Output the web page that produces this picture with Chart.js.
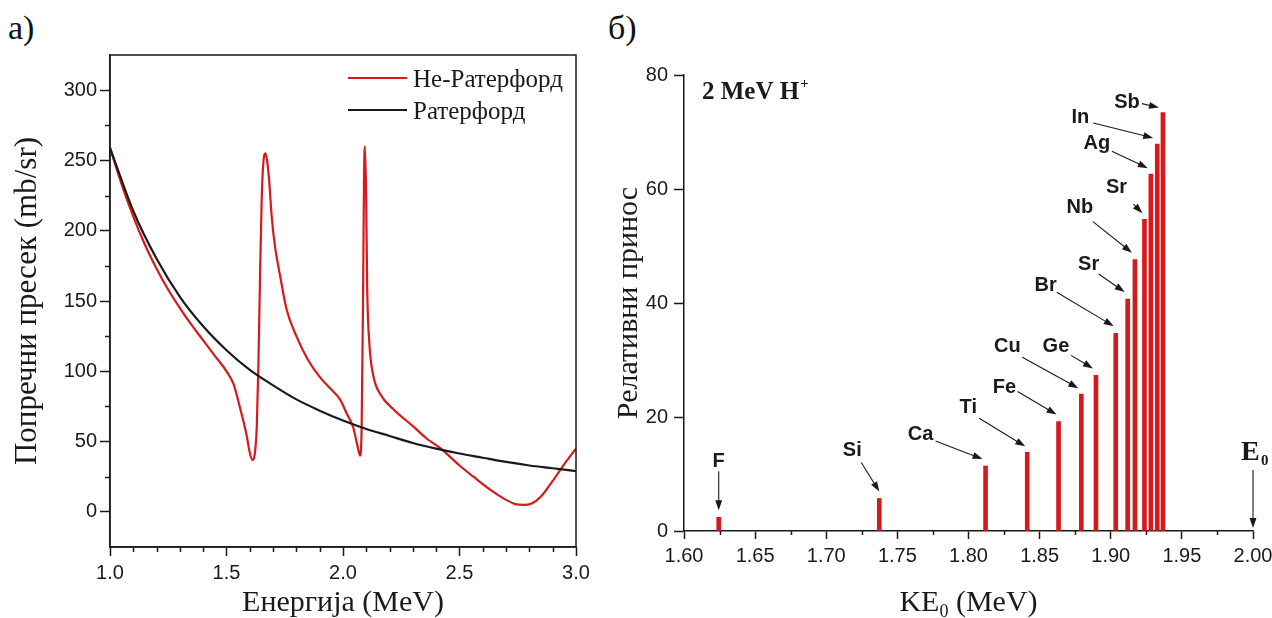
<!DOCTYPE html>
<html lang="sr">
<head>
<meta charset="UTF-8" />
<title>Ратерфорд и релативни принос</title>
<script src="https://cdn.jsdelivr.net/npm/chart.js"></script>
<style>
  body {
    margin: 0;
    background: #fff;
    width: 1272px;
    height: 618px;
    overflow: hidden;
    position: relative;
    font-family: "Liberation Serif", serif;
    color: #111;
  }
  .tag {
    position: absolute;
    top: 11px;
    font-size: 34px;
    line-height: 1;
  }
  #leftChart { position: absolute; left: 0; top: 0; }
  #rightChart { position: absolute; left: 590px; top: 0; }
</style>
</head>
<body>
<div class="tag" style="left: 8px">a)</div>
<div class="tag" style="left: 608px">б)</div>
<canvas id="leftChart" width="600" height="618"></canvas>
<canvas id="rightChart" width="682" height="618"></canvas>

<script>
// --- panel a: cross sections ---
const ruthEnergy = [1.0, 1.1, 1.2, 1.3, 1.4, 1.5, 1.6, 1.7, 1.8, 1.9, 2.0,
                    2.1, 2.2, 2.3, 2.4, 2.5, 2.6, 2.7, 2.8, 2.9, 3.0];
const ruthSigma = [259, 214, 180, 153, 132, 115, 101, 90, 80, 72, 65,
                   59, 54, 49, 45, 41.5, 38.5, 35.5, 33, 31, 29];

const nonRuthEnergy = [1.00, 1.05, 1.10, 1.15, 1.20, 1.25, 1.30, 1.35, 1.40, 1.45,
  1.50, 1.53, 1.558, 1.587, 1.60, 1.611, 1.622, 1.63, 1.637, 1.644,
  1.651, 1.658, 1.667, 1.675, 1.683, 1.694, 1.708, 1.73, 1.758, 1.80,
  1.85, 1.90, 1.95, 1.987, 2.016, 2.044, 2.062, 2.073, 2.08, 2.086,
  2.09, 2.094, 2.099, 2.104, 2.113, 2.13, 2.159, 2.216, 2.30, 2.36,
  2.42, 2.50, 2.56, 2.63, 2.70, 2.74, 2.775, 2.81, 2.85, 2.90, 2.95, 3.00];
const nonRuthSigma = [259, 233, 210, 190, 173, 158, 145, 133, 122, 111,
  100, 91, 74, 54, 42, 37, 42, 61, 105, 168,
  222, 248, 255, 249, 236, 210, 189, 168, 144, 125,
  108, 96, 87, 80, 70, 60, 47, 40, 60, 150,
  235, 260, 228, 158, 120, 97, 84, 73, 61, 52,
  45, 33, 25, 16, 8.5, 5.5, 5, 6, 11, 22, 34, 45];

const sigmaTicks = [0, 50, 100, 150, 200, 250, 300];
const energyTicks = [1.0, 1.5, 2.0, 2.5, 3.0];

// --- panel b: relative yields ---
const elements = ["F", "Si", "Ca", "Ti", "Fe", "Cu", "Ge", "Br", "Sr", "Nb", "Sr", "Ag", "In", "Sb"];
const peakEnergy = [1.6244, 1.7373, 1.812, 1.8413, 1.8633, 1.8793, 1.8896,
                    1.9035, 1.9119, 1.917, 1.9237, 1.9282, 1.9327, 1.9367];
const peakYield = [2.4, 5.7, 11.4, 13.8, 19.2, 24.0, 27.3,
                   34.7, 40.7, 47.6, 54.7, 62.6, 67.9, 73.4];
const keTicks = [1.60, 1.65, 1.70, 1.75, 1.80, 1.85, 1.90, 1.95, 2.00];
const yieldTicks = [0, 20, 40, 60, 80];
const beamEnergy = 2.0;

// label placement relative to the top of each bar:
// [textDx, textDy, tailDx, tailDy, headDx, headDy]
const labelLayout = [
  [0, -56, 0, -46, 0, -7],
  [-27, -48, -18, -36, 0, -7],
  [-65, -32, -50, -25, -3, -7],
  [-59, -45, -48, -34, -2, -6],
  [-54, -34, -41, -30, -2, -7],
  [-74, -48, -59, -37, -3, -6],
  [-40, -29, -25, -20, -3, -7],
  [-70, -48, -59, -41, -2, -7],
  [-39, -35, -29, -25, -3, -7],
  [-55, -52, -42, -38, -3, -7],
  [-28, -32, -11, -15, -2, -6],
  [-54, -31, -39, -23, -3, -6],
  [-77, -26, -64, -21, -4, -6],
  [-36, -10, -21, -9, -4, -5],
];

const RED = "#d7191c";
const INK = "#1a1a1a";
const SANS = "'Liberation Sans', Arial, sans-serif";
const SERIF = "'Liberation Serif', 'Times New Roman', serif";

Chart.defaults.font.family = SANS;
Chart.defaults.color = INK;

function between(a, b, step, skip) {
  const out = [];
  for (let v = a + step; v < b - step / 2; v += step) {
    const r = Math.round(v * 1000) / 1000;
    if (!skip.some((s) => Math.abs(s - r) < 1e-6)) out.push(r);
  }
  return out;
}

function minorTicks(ctx, scale, values, len) {
  ctx.beginPath();
  values.forEach((v) => {
    const p = Math.round(scale.getPixelForValue(v)) + 0.5;
    if (scale.isHorizontal()) {
      ctx.moveTo(p, scale.top);
      ctx.lineTo(p, scale.top + len);
    } else {
      ctx.moveTo(scale.right, p);
      ctx.lineTo(scale.right - len, p);
    }
  });
  ctx.stroke();
}

function arrow(ctx, x1, y1, x2, y2) {
  const a = Math.atan2(y2 - y1, x2 - x1);
  const L = 10, W = 3.5;
  const c = Math.cos(a), s = Math.sin(a);
  ctx.beginPath();
  ctx.moveTo(x1, y1);
  ctx.lineTo(x2 - L * 0.8 * c, y2 - L * 0.8 * s);
  ctx.stroke();
  ctx.beginPath();
  ctx.moveTo(x2, y2);
  ctx.lineTo(x2 - L * c + W * s, y2 - L * s - W * c);
  ctx.lineTo(x2 - L * c - W * s, y2 - L * s + W * c);
  ctx.closePath();
  ctx.fill();
}

function fixedBox(size) {
  return (scale) => {
    if (scale.isHorizontal()) scale.height = size;
    else scale.width = size;
    scale.paddingLeft = scale.paddingRight = 0;
    scale.paddingTop = scale.paddingBottom = 0;
  };
}

function axis(min, max, tickList, fmt, box, tickLen, pad, title) {
  return {
    type: "linear",
    min: min,
    max: max,
    offset: false,
    afterBuildTicks: (s) => { s.ticks = tickList.map((v) => ({ value: v })); },
    afterFit: fixedBox(box),
    ticks: {
      callback: fmt,
      font: { size: 20 },
      color: INK,
      padding: pad,
      maxRotation: 0,
      autoSkip: false,
    },
    grid: {
      offset: false,
      drawOnChartArea: false,
      tickLength: tickLen,
      tickWidth: 1.5,
      tickColor: INK,
    },
    border: { color: INK, width: 1.5 },
    title: title,
  };
}

// frame, minor ticks and legend for panel a
const crossSectionExtras = {
  id: "crossSectionExtras",
  afterDraw(chart) {
    const { ctx, chartArea: ca, scales } = chart;
    ctx.save();
    ctx.strokeStyle = INK;
    ctx.lineWidth = 1.5;
    ctx.strokeRect(ca.left, ca.top, ca.right - ca.left, ca.bottom - ca.top);
    minorTicks(ctx, scales.x, between(1.0, 3.0, 0.1, energyTicks), 5);
    minorTicks(ctx, scales.y, between(-25, 325, 25, sigmaTicks).filter((v) => v > 0 && v < 325), 5);

    // legend
    const rows = [chart.data.datasets[1], chart.data.datasets[0]];
    ctx.font = "25px " + SERIF;
    ctx.textAlign = "left";
    ctx.textBaseline = "alphabetic";
    rows.forEach((ds, i) => {
      const y = 78 + i * 32;
      ctx.strokeStyle = ds.borderColor;
      ctx.lineWidth = 2.2;
      ctx.beginPath();
      ctx.moveTo(348, y);
      ctx.lineTo(407, y);
      ctx.stroke();
      ctx.fillStyle = INK;
      ctx.fillText(ds.label, 413, y + 8.5);
    });
    ctx.restore();
  },
};

new Chart(document.getElementById("leftChart"), {
  type: "line",
  data: {
    datasets: [
      {
        label: "Ратерфорд",
        data: ruthEnergy.map((x, i) => ({ x: x, y: ruthSigma[i] })),
        borderColor: INK,
        borderWidth: 2.2,
        pointRadius: 0,
        cubicInterpolationMode: "monotone",
      },
      {
        label: "Не-Ратерфорд",
        data: nonRuthEnergy.map((x, i) => ({ x: x, y: nonRuthSigma[i] })),
        borderColor: RED,
        borderWidth: 2.2,
        pointRadius: 0,
        cubicInterpolationMode: "monotone",
      },
    ],
  },
  options: {
    responsive: false,
    animation: false,
    events: [],
    layout: { padding: { top: 55, right: 24, left: 0, bottom: 0 } },
    plugins: { legend: { display: false }, tooltip: { enabled: false } },
    scales: {
      x: axis(1, 3, energyTicks, (v) => v.toFixed(1), 71, 9, 5, {
        display: true,
        text: "Енергија (MeV)",
        font: { family: SERIF, size: 30, lineHeight: 1.0 },
        color: INK,
        padding: { top: 0, bottom: 0 },
      }),
      y: axis(-25, 325, sigmaTicks, (v) => String(v), 110, 10, 3, {
        display: true,
        text: "Попречни пресек (mb/sr)",
        font: { family: SERIF, size: 31, lineHeight: 1.2 },
        color: INK,
        padding: { top: 9, bottom: 0 },
      }),
    },
  },
  plugins: [crossSectionExtras],
});

// labels, arrows and texts for panel b
const yieldExtras = {
  id: "yieldExtras",
  afterDraw(chart) {
    const { ctx, chartArea: ca, scales } = chart;
    const xs = scales.x, ys = scales.y;
    ctx.save();
    ctx.strokeStyle = INK;
    ctx.lineWidth = 1.5;
    minorTicks(ctx, xs, between(1.6, 2.0, 0.025, keTicks), 4);

    ctx.fillStyle = INK;
    ctx.lineWidth = 1.1;
    ctx.font = "bold 20px " + SANS;
    ctx.textAlign = "center";
    ctx.textBaseline = "middle";
    elements.forEach((name, i) => {
      const bx = xs.getPixelForValue(peakEnergy[i]);
      const by = ys.getPixelForValue(peakYield[i]);
      const [tx, ty, ax, ay, hx, hy] = labelLayout[i];
      ctx.fillText(name, bx + tx, by + ty);
      arrow(ctx, bx + ax, by + ay, bx + hx, by + hy);
    });

    // beam energy marker
    const ex = xs.getPixelForValue(beamEnergy);
    const ey = ys.getPixelForValue(0);
    arrow(ctx, ex, ey - 61, ex, ey - 3);
    ctx.textAlign = "left";
    ctx.textBaseline = "alphabetic";
    ctx.font = "bold 28px " + SERIF;
    ctx.fillText("E", ex - 12, ey - 71);
    ctx.font = "bold 15px " + SERIF;
    ctx.fillText("0", ex + 8, ey - 66);

    // beam label
    ctx.font = "bold 25px " + SERIF;
    const beam = "2 MeV H";
    ctx.fillText(beam, ca.left + 18, 99);
    const bw = ctx.measureText(beam).width;
    ctx.font = "bold 15px " + SERIF;
    ctx.fillText("+", ca.left + 19 + bw, 88);

    // x-axis title with subscript
    ctx.textBaseline = "middle";
    const big = "30px " + SERIF, small = "18px " + SERIF;
    ctx.font = big;
    const wKE = ctx.measureText("KE").width;
    const wRest = ctx.measureText(" (MeV)").width;
    ctx.font = small;
    const wSub = ctx.measureText("0").width;
    let x = (ca.left + ca.right) / 2 - (wKE + wSub + wRest) / 2;
    const y = 603;
    ctx.font = big;
    ctx.fillText("KE", x, y);
    x += wKE;
    ctx.font = small;
    ctx.fillText("0", x, y + 9);
    x += wSub;
    ctx.font = big;
    ctx.fillText(" (MeV)", x, y);
    ctx.restore();
  },
};

new Chart(document.getElementById("rightChart"), {
  type: "bar",
  data: {
    datasets: [
      {
        label: "Релативни принос",
        data: peakEnergy.map((x, i) => ({ x: x, y: peakYield[i] })),
        backgroundColor: RED,
        borderWidth: 0,
        barThickness: 4,
      },
    ],
  },
  options: {
    responsive: false,
    animation: false,
    events: [],
    layout: { padding: { top: 75, right: 19, left: 0, bottom: 0 } },
    plugins: { legend: { display: false }, tooltip: { enabled: false } },
    scales: {
      x: axis(1.6, 2.0, keTicks, (v) => v.toFixed(2), 87, 8, 5, { display: false }),
      y: axis(0, 80, yieldTicks, (v) => String(v), 94, 10, 6, {
        display: true,
        text: "Релативни принос",
        font: { family: SERIF, size: 30, lineHeight: 1.2 },
        color: INK,
        padding: { top: 21, bottom: 0 },
      }),
    },
  },
  plugins: [yieldExtras],
});
</script>
</body>
</html>
